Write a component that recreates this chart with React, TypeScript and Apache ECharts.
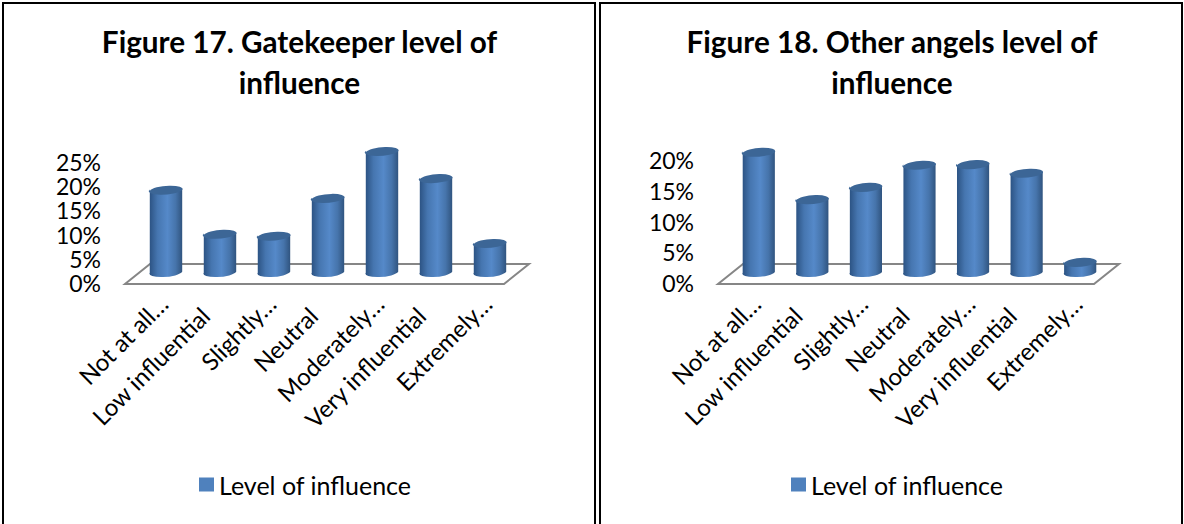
import React, { useEffect, useRef } from "react";
import * as echarts from "echarts";

const categories = [
  "Not at all…",
  "Low influential",
  "Slightly…",
  "Neutral",
  "Moderately…",
  "Very influential",
  "Extremely…",
];
const gatekeeperValues = [17.2, 8.1, 7.7, 15.5, 25.2, 19.6, 6.2];
const otherAngelsValues = [19.7, 12.0, 14.0, 17.6, 17.7, 16.3, 1.8];
const seriesName = "Level of influence";
const gatekeeperTitle = "Figure 17. Gatekeeper level of\ninfluence";
const otherAngelsTitle = "Figure 18. Other angels level of\ninfluence";

const FONT = "Lato, Carlito, sans-serif";
const DEPTH = 10; // floor depth: bars stand this far behind the axis baseline

const cylinderFill = () =>
  new echarts.graphic.LinearGradient(0, 0, 1, 0, [
    { offset: 0, color: "#2b5282" },
    { offset: 0.25, color: "#4676b0" },
    { offset: 0.55, color: "#5589c9" },
    { offset: 0.8, color: "#4674ab" },
    { offset: 1, color: "#30547f" },
  ]);

// Cylinder with a slightly tilted elliptical cap, standing on the floor.
const renderCylinder = (_params: any, api: any) => {
  const band = api.value(0);
  const base = api.coord([band, 0]);
  const top = api.coord([band, api.value(1)]);
  const rx = api.size([1, 0])[0] * 0.3;
  const ry = 4.5;
  const tilt = rx * 0.07;
  const l = base[0] - rx;
  const r = base[0] + rx;
  const by = base[1] - DEPTH;
  const ty = top[1] - DEPTH;
  const arc = `A${rx} ${ry} -5`;
  // The body runs up under the cap so that no seam shows between the two.
  const body =
    `M${l} ${ty + tilt}L${r} ${ty - tilt}` +
    `L${r} ${by - tilt}${arc} 0 1 ${l} ${by + tilt}Z`;
  const cap =
    `M${l} ${ty + tilt}${arc} 0 1 ${r} ${ty - tilt}` +
    `${arc} 0 1 ${l} ${ty + tilt}Z`;
  return {
    type: "group",
    children: [
      { type: "path", shape: { pathData: body }, style: { fill: cylinderFill() } },
      { type: "path", shape: { pathData: cap }, style: { fill: "#3c6696" } },
    ],
  };
};

// Perspective floor outline drawn from the grid's own extent.
const renderFloor = (params: any, api: any) => {
  const g = params.coordSys;
  const y0 = api.coord([0, 0])[1];
  const points = [
    [g.x - 14, y0 + 1],
    [g.x + g.width - 13, y0 + 1],
    [g.x + g.width + 12, y0 - 19],
    [g.x + 11, y0 - 19],
  ];
  return {
    type: "polygon",
    shape: { points },
    style: { fill: "#ffffff", stroke: "#868686", lineWidth: 2 },
  };
};

const panelGrid = (left: number, top: number, width: number) => ({
  left,
  top,
  width,
  height: 283 - top,
  containLabel: false,
});

// Labels cut with an ellipsis sit further along the slope than whole ones.
const labelStyle = (rightPad: number, topPad: number) => ({
  fontFamily: FONT,
  fontSize: 24,
  color: "#000000",
  padding: [topPad, rightPad, 0, 0],
});

const categoryAxis = (gridIndex: number) => ({
  type: "category",
  gridIndex,
  data: categories,
  axisLine: { show: false },
  axisTick: { show: false },
  axisLabel: {
    interval: 0,
    rotate: 45,
    margin: 12,
    formatter: (v: string) => (v.endsWith("…") ? `{cut|${v}}` : `{full|${v}}`),
    rich: { cut: labelStyle(5, 2), full: labelStyle(22, 2) },
  },
});

const valueAxis = (gridIndex: number, max: number) => ({
  type: "value",
  gridIndex,
  min: 0,
  max,
  interval: 5,
  axisLine: { show: false },
  axisTick: { show: false },
  splitLine: { show: false },
  axisLabel: {
    formatter: "{value}%",
    margin: 38,
    fontFamily: FONT,
    fontSize: 23,
    lineHeight: 20,
    color: "#000000",
  },
});

const floorSeries = (index: number) => ({
  type: "custom",
  name: "floor",
  xAxisIndex: index,
  yAxisIndex: index,
  data: [[0, 0]],
  clip: false,
  silent: true,
  z: 1,
  renderItem: renderFloor,
});

const barSeries = (index: number, values: number[]) => ({
  type: "custom",
  name: seriesName,
  xAxisIndex: index,
  yAxisIndex: index,
  data: values.map((v, i) => [i, v]),
  encode: { x: 0, y: 1 },
  clip: false,
  z: 2,
  itemStyle: { color: "#4f81bd" },
  renderItem: renderCylinder,
});

const titleOf = (text: string, anchorX: number) => ({
  text,
  left: anchorX,
  top: 16,
  textAlign: "center",
  textStyle: {
    fontFamily: FONT,
    fontWeight: "bold",
    fontSize: 29.7,
    lineHeight: 41,
    color: "#000000",
  },
});

const legendOf = (left: number) => ({
  left,
  top: 467,
  data: [{ name: seriesName, icon: "rect" }],
  itemWidth: 15,
  itemHeight: 14,
  itemGap: 6,
  selectedMode: false,
  textStyle: { fontFamily: FONT, fontSize: 25, color: "#000000" },
  itemStyle: { color: "#4f81bd" },
});

// Black frame lines around and between the two panels.
const frameLine = (x: number, y: number, width: number, height: number) => ({
  type: "rect",
  shape: { x, y, width, height },
  style: { fill: "#000000" },
  silent: true,
});

const option = {
  animation: false,
  backgroundColor: "#ffffff",
  title: [titleOf(gatekeeperTitle, 294.5), titleOf(otherAngelsTitle, 887)],
  legend: [legendOf(194), legendOf(786)],
  grid: [panelGrid(139, 162, 378), panelGrid(732, 160, 375)],
  xAxis: [categoryAxis(0), categoryAxis(1)],
  yAxis: [valueAxis(0, 25), valueAxis(1, 20)],
  series: [
    floorSeries(0),
    barSeries(0, gatekeeperValues),
    floorSeries(1),
    barSeries(1, otherAngelsValues),
  ],
  graphic: [
    frameLine(2, 2, 594, 2),
    frameLine(599, 2, 584, 2),
    frameLine(2, 2, 2, 522),
    frameLine(594, 2, 2, 522),
    frameLine(599, 2, 2, 522),
    frameLine(1181, 2, 2, 522),
  ],
};

export default function App() {
  const ref = useRef<HTMLDivElement>(null);
  useEffect(() => {
    document.body.style.margin = "0";
    const chart = echarts.init(ref.current!, undefined, { renderer: "svg" });
    chart.setOption(option as any);
    return () => chart.dispose();
  }, []);
  return <div ref={ref} style={{ width: 1184, height: 524 }} />;
}
